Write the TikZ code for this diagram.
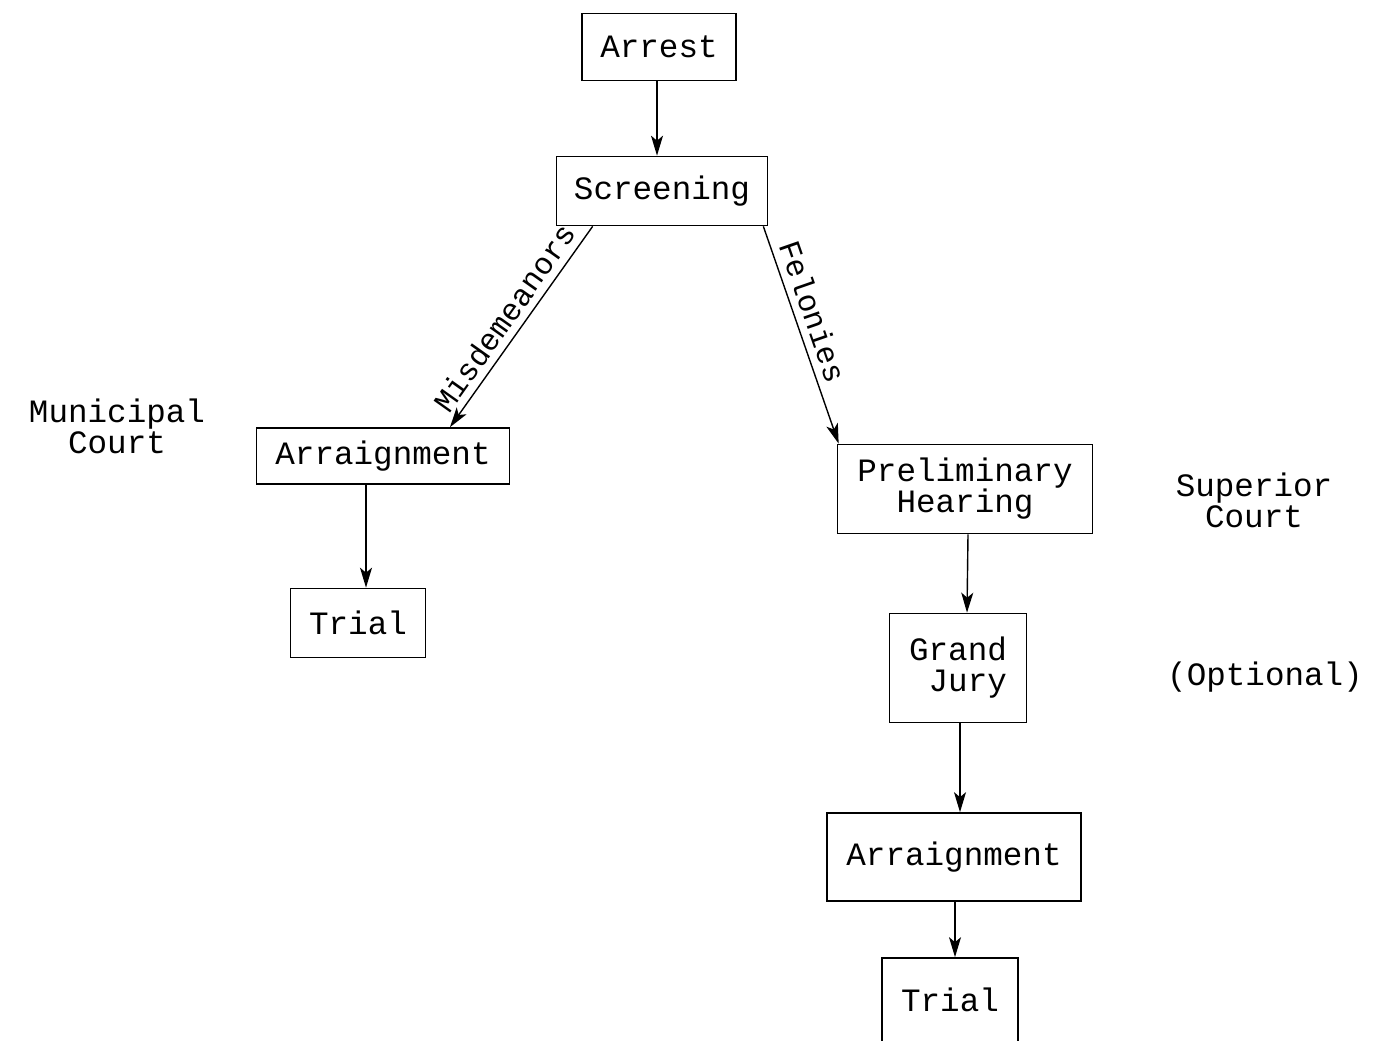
\documentclass[tikz,border=0pt]{standalone}
\usepackage{fontspec}
\newfontfamily\twfont{Liberation Mono}
\usetikzlibrary{arrows.meta}
\begin{document}
\begin{tikzpicture}[x=0.5pt,y=-0.5pt,
  every node/.style={font=\twfont\fontsize{16.3}{15.5}\selectfont, inner sep=0pt},
  stage/.style={draw, line width=0.85pt, align=center},
  arr/.style={draw, line width=0.7pt, -{Stealth[length=10pt,width=6pt,inset=2.5pt]}},
  branch/.style={sloped, above=3.5pt, font=\twfont\fontsize{15.4}{15.5}\selectfont},
  court/.style={align=center}]
\useasboundingbox (0,0) rectangle (1386,1040);
\clip (0,0) rectangle (1386,1040);

% stages
\node[stage, minimum width=77pt, minimum height=33.5pt] (arrest) at (659,47) {Arrest};
\node[stage, minimum width=105.5pt, minimum height=34.5pt] (screen) at (662,191) {Screening};
\node[stage, minimum width=126.5pt, minimum height=28pt] (arrL) at (383,456) {Arraignment};
\node[stage, minimum width=67.5pt, minimum height=34.5pt] (trialL) at (358,623) {Trial};
\node[stage, minimum width=127.5pt, minimum height=44.5pt] (prelim) at (965,489) {Preliminary\\Hearing};
\node[stage, minimum width=68.5pt, minimum height=54.5pt, align=right] (grand) at (958,668) {Grand\\Jury};
\node[stage, minimum width=127pt, minimum height=44pt] (arrR) at (954,857) {Arraignment};
\node[stage, minimum width=68pt, minimum height=42pt] (trialR) at (950,1000) {Trial};

% court labels
\node[court] (muni) at (117,426) {Municipal\\Court};
\node[court] (sup) at (1254,500) {Superior\\Court};
\node (opt) at (1265,677) {(Optional)};

% connectors
\draw[arr] ([xshift=-1pt]arrest.south) -- ([xshift=-2.5pt]screen.north);
\draw[arr] ([xshift=18.5pt]screen.south west) -- node[branch, pos=0.51] {Misdemeanors} ([xshift=33.5pt]arrL.north);
\draw[arr] ([xshift=-2.5pt]screen.south east) -- node[branch, pos=0.42] {Felonies} ([xshift=1pt]prelim.north west);
\draw[arr] ([xshift=-8.5pt]arrL.south) -- ([xshift=4pt]trialL.north);
\draw[arr] ([xshift=1.5pt]prelim.south) -- ([xshift=4.5pt]grand.north);
\draw[arr] ([xshift=1pt]grand.south) -- ([xshift=3pt]arrR.north);
\draw[arr] ([xshift=0.5pt]arrR.south) -- ([xshift=2.5pt]trialR.north);
\end{tikzpicture}
\end{document}
